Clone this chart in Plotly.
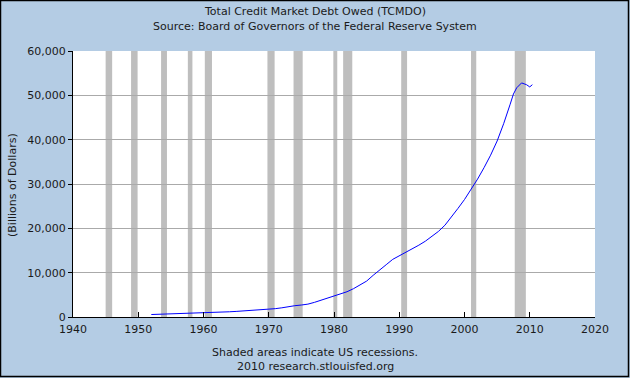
import plotly.graph_objects as go

# Observations (year fraction) of TCMDO, billions of dollars
years = [1952, 1953, 1954, 1955, 1956, 1957, 1958, 1959, 1960, 1961, 1962, 1963,
         1964, 1965, 1966, 1967, 1968, 1969, 1970, 1971, 1972, 1973, 1974, 1975,
         1976, 1977, 1978, 1979, 1980, 1981, 1982, 1983, 1984, 1985, 1986, 1987,
         1988, 1989, 1990, 1991, 1992, 1993, 1994, 1995, 1996, 1997, 1998, 1999,
         2000, 2001, 2002, 2003, 2004, 2005, 2006, 2007, 2007.5, 2008, 2008.75,
         2009.5, 2010, 2010.4]
debt = [560, 600, 630, 690, 730, 760, 800, 870, 910, 960, 1030, 1100,
        1180, 1260, 1340, 1420, 1530, 1630, 1720, 1880, 2070, 2350, 2550, 2700,
        2900, 3300, 3800, 4300, 4700, 5200, 5700, 6400, 7300, 8100, 9400, 10500,
        11800, 13000, 13800, 14500, 15300, 16200, 17100, 18100, 19300, 20700, 22500, 24500,
        26500, 28700, 31100, 33700, 36500, 39700, 43600, 48000, 50300, 51700, 52800,
        52400, 51900, 52400]

rec_start = [1945.0, 1948.9, 1953.5, 1957.6, 1960.2, 1969.8, 1973.8, 1979.9, 1981.4, 1990.3, 2001.0, 2007.7]
rec_end = [1946.0, 1949.9, 1954.4, 1958.3, 1961.3, 1970.9, 1975.2, 1980.5, 1982.8, 1991.2, 2001.8, 2009.4]

x_ticks = [1940, 1950, 1960, 1970, 1980, 1990, 2000, 2010, 2020]
y_ticks = [0, 10000, 20000, 30000, 40000, 50000, 60000]

W, H = 630, 378
ml, mr, mt, mb = 73, 35, 51, 61
pw, ph = W - ml - mr, H - mt - mb

fig = go.Figure()
fig.add_trace(go.Scatter(x=years, y=debt, mode="lines",
                         line=dict(color="#0000FF", width=1), showlegend=False,
                         hoverinfo="x+y"))

shapes = []
for s, e in zip(rec_start, rec_end):
    shapes.append(dict(type="rect", xref="x", yref="paper", x0=s, x1=e, y0=0, y1=1,
                       fillcolor="#BEBEBE", line=dict(width=0), layer="between"))
# outer border
shapes.append(dict(type="rect", xref="paper", yref="paper",
                   x0=(-ml + 0.5) / pw, x1=(W - ml - 1.5) / pw,
                   y0=(-mb + 1.5) / ph, y1=(H - mb - 0.5) / ph,
                   line=dict(color="#000000", width=1.5), fillcolor="rgba(0,0,0,0)",
                   layer="above"))

font = "DejaVu Sans, Verdana, sans-serif"
txt_color = "#1a1a1a"
annotations = [
    ("Total Credit Market Debt Owed (TCMDO)", 12),
    ("Source: Board of Governors of the Federal Reserve System", 26.5),
    ("Shaded areas indicate US recessions.", 352),
    ("2010 research.stlouisfed.org", 366),
]
anns = []
for text, ypix in annotations:
    anns.append(dict(text=text, xref="paper", yref="paper",
                     x=(W / 2 - ml) / pw, y=(H - mb - ypix) / ph,
                     xanchor="center", yanchor="middle", showarrow=False,
                     font=dict(family=font, size=11, color=txt_color)))
anns.append(dict(text="(Billions of Dollars)", xref="paper", yref="paper",
                 x=(12 - ml) / pw, y=(H - mb - 185) / ph, textangle=-90,
                 xanchor="center", yanchor="middle", showarrow=False,
                 font=dict(family=font, size=11, color=txt_color)))

fig.update_layout(
    width=W, height=H,
    margin=dict(l=ml, r=mr, t=mt, b=mb),
    paper_bgcolor="#B4CCE4",
    plot_bgcolor="#FFFFFF",
    shapes=shapes,
    annotations=anns,
    font=dict(family=font, size=11, color=txt_color),
    xaxis=dict(range=[1940, 2020], tickvals=x_ticks, showgrid=False, zeroline=False,
               showline=True, linecolor="#000000", linewidth=1,
               ticks="inside", ticklen=5, tickcolor="#000000",
               ticklabelstandoff=2,
               tickfont=dict(family=font, size=11, color=txt_color)),
    yaxis=dict(range=[0, 60000], tickvals=y_ticks, tickformat=",d",
               showgrid=True, gridcolor="#AAAAAA", gridwidth=1, zeroline=False,
               showline=True, linecolor="#000000", linewidth=1,
               ticks="outside", ticklen=4, tickcolor="#000000",
               tickfont=dict(family=font, size=11, color=txt_color)),
)

fig.write_html("out.html", config={"displayModeBar": False},
               post_script="document.body.style.margin='0';document.body.style.overflow='hidden';")
